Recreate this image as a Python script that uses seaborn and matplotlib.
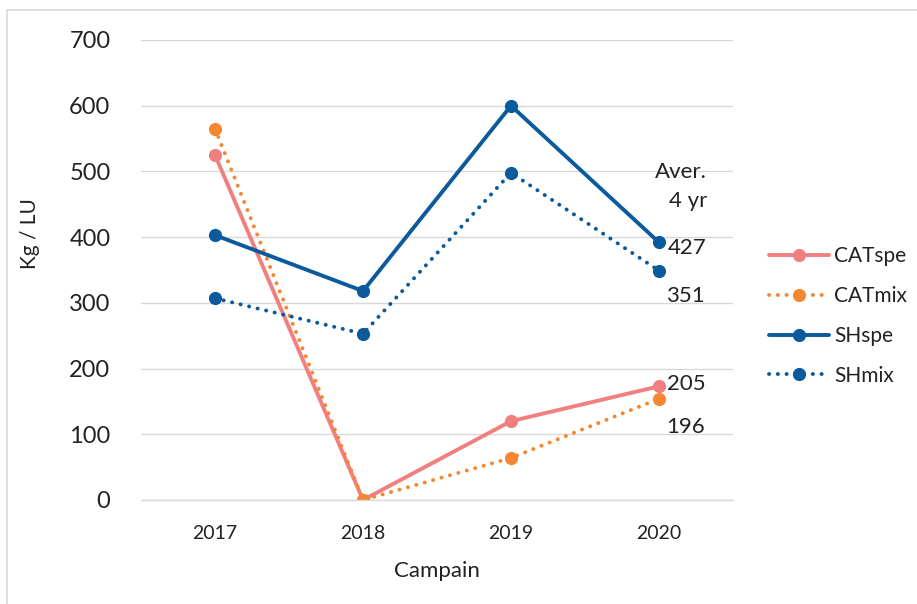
import numpy as np
import pandas as pd
import matplotlib.pyplot as plt
import seaborn as sns
from matplotlib.patches import Rectangle
from matplotlib.lines import Line2D

years = ['2017', '2018', '2019', '2020']
cat_spe = [525, 0, 120, 173]
cat_mix = [565, 0, 64, 154]
sh_spe = [403, 318, 600, 392]
sh_mix = [307, 253, 498, 349]
series_names = ['CATspe', 'CATmix', 'SHspe', 'SHmix']
averages = [205, 196, 427, 351]

colors = {'CATspe': '#F07F7F', 'CATmix': '#F58632', 'SHspe': '#0B5A9C', 'SHmix': '#0B5A9C'}
dotted = {'CATspe': False, 'CATmix': True, 'SHspe': False, 'SHmix': True}

sns.set_theme(style='white')
plt.rcParams['font.family'] = ['Lato', 'DejaVu Sans']

fig = plt.figure(figsize=(9.17, 6.04), dpi=100)
ax = fig.add_axes([141 / 917, 1 - 500 / 604, (733 - 141) / 917, (500 - 40) / 604])

values = [cat_spe, cat_mix, sh_spe, sh_mix]
df = pd.DataFrame({'Campain': years * 4,
                   'value': sum(values, []),
                   'series': np.repeat(series_names, len(years))})

handles = []
for name in series_names:
    sub = df[df['series'] == name]
    ls = (0, (0.05, 2.2)) if dotted[name] else '-'
    sns.lineplot(data=sub, x='Campain', y='value', ax=ax, color=colors[name],
                 linewidth=2.8, linestyle=ls, marker='o', markersize=9.5,
                 markeredgewidth=0, dash_capstyle='round', legend=False)
    handles.append(Line2D([0], [0], color=colors[name], linewidth=2.8, linestyle=ls,
                          marker='o', markersize=9.5, markeredgewidth=0,
                          dash_capstyle='round'))

ax.set_xlim(-0.5, 3.5)
ax.set_ylim(0, 700)
ax.set_yticks(range(0, 701, 100))
ax.yaxis.grid(True, color='#D9D9D9', linewidth=1)
ax.set_axisbelow(True)
for s in ['top', 'right', 'left']:
    ax.spines[s].set_visible(False)
ax.spines['bottom'].set_color('#D9D9D9')
ax.spines['bottom'].set_linewidth(1)
ax.tick_params(axis='y', labelsize=17, colors='#222222', length=0, pad=22)
ax.tick_params(axis='x', labelsize=14, colors='#222222', length=0, pad=18)

ax.set_xlabel('Campain', fontsize=16, color='#222222', labelpad=14)
ax.set_ylabel('Kg / LU', fontsize=15, color='#222222')
ax.yaxis.set_label_coords(-0.17, 0.58)

# 4-year averages next to the 2020 points
last = len(years) - 1
offsets = {'CATspe': (6, 2), 'CATmix': (5, -20), 'SHspe': (6, -4), 'SHmix': (5, -18)}
for name, vals, avg in zip(series_names, values, averages):
    ax.annotate(str(avg), xy=(last, vals[last]), xytext=offsets[name],
                textcoords='offset points', fontsize=16, color='#222222',
                ha='left', va='center')
ax.annotate('Aver.', xy=(last, sh_spe[last]), xytext=(16, 51), textcoords='offset points',
            fontsize=16, color='#222222', ha='center', va='center')
ax.annotate('4 yr', xy=(last, sh_spe[last]), xytext=(21, 30), textcoords='offset points',
            fontsize=16, color='#222222', ha='center', va='center')

fig.legend(handles, series_names, loc='center left', bbox_to_anchor=(750 / 917, 1 - 316 / 604),
           frameon=False, fontsize=15, handlelength=2.9, labelspacing=0.95,
           handletextpad=0.25, labelcolor='#222222')

fig.patches.append(Rectangle((7 / 917, -0.1), 1.2, 1.1 - 10 / 604, transform=fig.transFigure,
                             fill=False, edgecolor='#D9D9D9', linewidth=1.2))

fig.savefig('out.png', dpi=100)
